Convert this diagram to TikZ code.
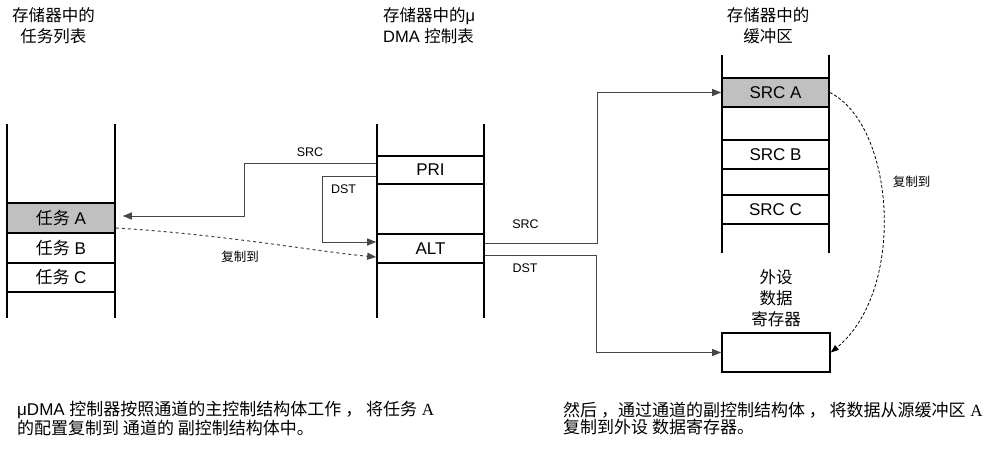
\documentclass[tikz,border=0pt]{standalone}
\usepackage{fontspec}
\setmainfont{Liberation Sans}
\newfontfamily\cjk{Noto Sans CJK SC}
\newfontfamily\tms{Liberation Serif}
\usetikzlibrary{arrows.meta}
\definecolor{boxgray}{RGB}{192,192,192}
\definecolor{linegray}{RGB}{70,70,70}
\begin{document}
\begin{tikzpicture}[x=1pt,y=-1pt,
  cell/.style={draw=black, line width=1.6pt, minimum width=107pt, minimum height=29pt, inner sep=0pt, font=\fontsize{17}{20}\selectfont},
  shaded/.style={fill=boxgray},
  colline/.style={line width=1.4pt},
  conn/.style={draw=linegray, line width=1pt},
  tip/.style={-{Triangle[length=9pt,width=7pt]}},
  lbl/.style={font=\fontsize{12.5}{15}\selectfont, inner sep=0pt},
  hdr/.style={font=\fontsize{16.5}{21.5}\selectfont, inner sep=0pt},
  note/.style={font=\fontsize{17}{17}\selectfont, align=left, anchor=west, inner sep=0pt}]
\useasboundingbox (0,0) rectangle (984,448);
% column walls
\draw[colline] (7,124) -- (7,318);
\draw[colline] (115,124) -- (115,318);
\draw[colline] (377,124) -- (377,318);
\draw[colline] (484,124) -- (484,318);
\draw[colline] (722,55) -- (722,253);
\draw[colline] (829,55) -- (829,253);
% cells
\node[cell,shaded,minimum width=108pt,minimum height=30pt] (ta) at (61,218) {{\cjk 任务} A};
\node[cell,minimum width=108pt,minimum height=30pt] (tb) at (61,248) {{\cjk 任务} B};
\node[cell,minimum width=108pt,minimum height=29pt] (tc) at (61,277.5) {{\cjk 任务} C};
\node[cell,minimum height=28pt] (pri) at (430.5,170) {PRI};
\node[cell] (alt) at (430.5,248.5) {ALT};
\node[cell,shaded] (sa) at (775.5,92.5) {SRC A};
\node[cell] (sb) at (775.5,154.5) {SRC B};
\node[cell] (sc) at (775.5,209.5) {SRC C};
\node[cell,minimum width=108pt,minimum height=39pt] (per) at (776,352.5) {};
% connectors
\draw[conn,tip] ([yshift=7pt]pri.west) -- ++(-132,0) |- ([xshift=7pt,yshift=2pt]ta.east);
\draw[conn,tip] ([yshift=-6pt]pri.west) -- ++(-54,0) |- ([yshift=6.5pt]alt.west);
\draw[conn,dashed,tip] ([yshift=-10pt]ta.east) .. controls (220,234) and (320,252) .. ([yshift=-8.5pt]alt.west);
\draw[conn,tip] ([yshift=5.5pt]alt.east) -- ++(113,0) |- (sa.west);
\draw[conn,tip] ([yshift=-6.5pt]alt.east) -- ++(112,0) |- (per.west);
\draw[draw=black,line width=0.8pt,dash pattern=on 3pt off 2pt,-{Triangle[length=8pt,width=6pt]}] (sa.east) .. controls (895,125) and (907,290) .. (per.east);
% labels
\node[lbl] (l1) at (310,152) {SRC};
\node[lbl] (l2) at (343.5,189) {DST};
\node[lbl] (l3) at (240,257) {\cjk 复制到};
\node[lbl] (l4) at (525.5,224) {SRC};
\node[lbl] (l5) at (525,268) {DST};
\node[lbl] (l6) at (911.5,181.5) {\cjk 复制到};
% headers
\node[hdr,align=center,font=\cjk\fontsize{16.5}{21.5}\selectfont] (h1) at (53.5,25.5) {存储器中的\\任务列表};
\node[hdr,align=left,anchor=west] (h2) at (383,25.5) {{\cjk 存储器中的}μ\\DMA {\cjk 控制表}};
\node[hdr,align=center,font=\cjk\fontsize{16.5}{21.5}\selectfont] (h3) at (768,25.5) {存储器中的\\缓冲区};
\node[hdr,align=center,font=\cjk\fontsize{16.5}{21}\selectfont] (pl) at (776,298) {外设\\数据\\寄存器};
% notes
\node[note] (n1) at (17,418.5) {μDMA {\cjk 控制器按照通道的主控制结构体工作 ，\ 将任务} {\tms A}\\{\cjk 的配置复制到 通道的 副控制结构体中。}};
\node[note] (n2) at (563,418.5) {{\cjk 然后 ，通过通道的副控制结构体 ，\ 将数据从源缓冲区} {\tms A}\\{\cjk 复制到外设 数据寄存器。}};
\end{tikzpicture}
\end{document}
